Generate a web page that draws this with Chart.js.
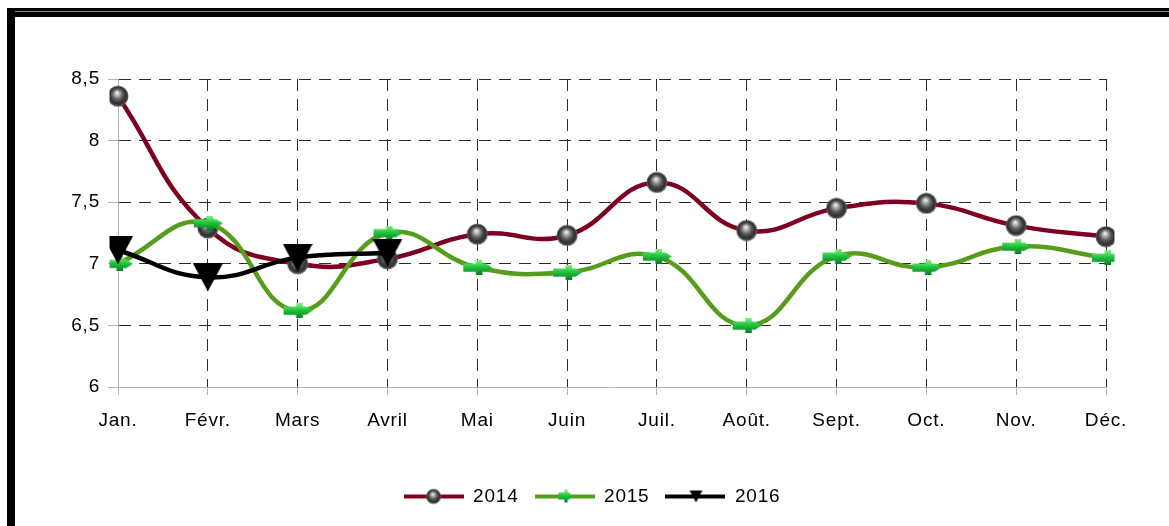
<!DOCTYPE html>
<html><head><meta charset="utf-8">
<script src="https://cdn.jsdelivr.net/npm/chart.js@4.4.1/dist/chart.umd.min.js"></script>
<style>
html,body{margin:0;padding:0;background:#fff;}
#wrap{position:relative;width:1169px;height:526px;overflow:hidden;background:#fff;}
#frameTop{position:absolute;left:7px;top:8px;width:1162px;height:9px;background:#000;}
#frameTopLine{position:absolute;left:10px;top:11px;width:1159px;height:1px;background:#8a8a8a;}
#frameLeft{position:absolute;left:7px;top:8px;width:8px;height:518px;background:#000;}
canvas{position:absolute;left:0;top:0;}
</style></head>
<body>
<div id="wrap">
<canvas id="c" width="1169" height="526"></canvas>
<div id="frameTop"></div><div id="frameTopLine"></div><div id="frameLeft"></div>
</div>
<script>
const months = ['Jan.', 'Févr.', 'Mars', 'Avril', 'Mai', 'Juin', 'Juil.', 'Août.', 'Sept.', 'Oct.', 'Nov.', 'Déc.'];
const seriesNames = ['2014', '2015', '2016'];
const values2014 = [8.36, 7.29, 7.00, 7.04, 7.24, 7.23, 7.66, 7.27, 7.45, 7.49, 7.31, 7.22];
const values2015 = [7.00, 7.33, 6.62, 7.25, 6.97, 6.93, 7.06, 6.50, 7.06, 6.97, 7.14, 7.05];
const values2016 = [7.11, 6.89, 7.05, 7.09];
const yMin = 6, yMax = 8.5, yStep = 0.5;

const COL2014 = '#7e0021', COL2015 = '#579d1c', COL2016 = '#000000';
const FONT = {family: '"Liberation Sans", Arial, sans-serif', size: 19};

function mk(w,h){const c=document.createElement('canvas');c.width=w;c.height=h;return c;}
function drawSphere(g,cx,cy,r){
  const gr=g.createRadialGradient(cx-r*0.1,cy-r*0.35,0,cx,cy,r);
  gr.addColorStop(0,'#ffffff');gr.addColorStop(0.18,'#c4c4c4');gr.addColorStop(0.5,'#5e5e5e');
  gr.addColorStop(0.8,'#2b2b2b');gr.addColorStop(1,'#6a6a6a');
  g.fillStyle=gr;g.beginPath();g.arc(cx,cy,r,0,Math.PI*2);g.fill();
}
function drawArrow(g,x,y,w,h){
  const bh=h*0.55, y0=y+(h-bh)/2;
  const gr=g.createLinearGradient(0,y,0,y+h);
  gr.addColorStop(0,'#8cf08c');gr.addColorStop(0.45,'#22c73e');gr.addColorStop(1,'#087a25');
  g.fillStyle=gr;
  g.beginPath();g.moveTo(x+1,y0);g.lineTo(x+w*0.78,y0);g.lineTo(x+w,y+h/2);g.lineTo(x+w*0.78,y0+bh);g.lineTo(x+1,y0+bh);g.closePath();g.fill();
  g.fillRect(x+w*0.45,y,w*0.22,h);
}
function drawTri(g,x,y,w,h){g.fillStyle='#000';g.beginPath();g.moveTo(x,y);g.lineTo(x+w,y);g.lineTo(x+w/2,y+h);g.closePath();g.fill();}

const sphereImg=(()=>{const c=mk(22,22);drawSphere(c.getContext('2d'),11,11,10.5);return c;})();
const arrowImg=(()=>{const c=mk(30,15);drawArrow(c.getContext('2d'),0,0,30,15);return c;})();
const triImg=(()=>{const c=mk(30,28);drawTri(c.getContext('2d'),0,0,30,28);return c;})();

function legendIcon(color, kind){
  const c=mk(60,20);const g=c.getContext('2d');
  g.fillStyle=color;g.fillRect(0,8,60,4);
  if(kind==='sphere')drawSphere(g,30,10,7.5);
  if(kind==='arrow')drawArrow(g,23,3,15,13);
  if(kind==='tri')drawTri(g,24,4,13,12);
  return c;
}
const legendIcons=[legendIcon(COL2014,'sphere'),legendIcon(COL2015,'arrow'),legendIcon(COL2016,'tri')];

const spacingPlugin={id:'spacing',
  beforeLayout(chart){chart.ctx.letterSpacing='0.8px';},
  afterLayout(chart){ if(chart.legend){ chart.legend.left = 78; } },
  beforeDraw(chart){chart.ctx.letterSpacing='0.8px';}
};

new Chart(document.getElementById('c'),{
  type:'line',
  data:{labels:months,datasets:[
    {label:seriesNames[0],data:values2014,borderColor:COL2014,borderWidth:4.5,tension:0.45,pointStyle:sphereImg,order:2},
    {label:seriesNames[1],data:values2015,borderColor:COL2015,borderWidth:4.5,tension:0.45,pointStyle:arrowImg,order:1},
    {label:seriesNames[2],data:values2016,borderColor:COL2016,borderWidth:4.5,tension:0.45,pointStyle:triImg,order:0}
  ]},
  options:{
    responsive:false,animation:false,
    layout:{padding:{left:0,right:63,top:79,bottom:10}},
    font:FONT,
    plugins:{
      tooltip:{enabled:false},
      legend:{position:'bottom',
        labels:{usePointStyle:true,pointStyleWidth:60,padding:16,color:'#000',font:FONT,
          generateLabels:(chart)=>chart.data.datasets.map((ds,i)=>({text:ds.label,pointStyle:legendIcons[i],datasetIndex:i,fillStyle:'rgba(0,0,0,0)',strokeStyle:'rgba(0,0,0,0)',lineWidth:0,hidden:false,fontColor:'#000'}))
        }}
    },
    scales:{
      x:{
        afterFit:(s)=>{s.height=84;},
        grid:{color:'#2a2a2a',lineWidth:1,tickLength:8,tickColor:'#b3b3b3',tickBorderDash:[]},
        border:{display:true,color:'#b3b3b3',width:1,dash:[12,8]},
        ticks:{color:'#000',font:FONT,padding:14,maxRotation:0,autoSkip:false}
      },
      y:{
        min:yMin,max:yMax,
        afterFit:(s)=>{s.width=118;},
        grid:{color:'#2a2a2a',lineWidth:1,tickLength:10,tickColor:'#b3b3b3',tickBorderDash:[]},
        border:{display:true,color:'#b3b3b3',width:1,dash:[12,8]},
        ticks:{stepSize:yStep,color:'#000',font:FONT,padding:8,callback:(v)=>String(v).replace('.',',')}
      }
    }
  },
  plugins:[spacingPlugin]
});
</script>
</body></html>
